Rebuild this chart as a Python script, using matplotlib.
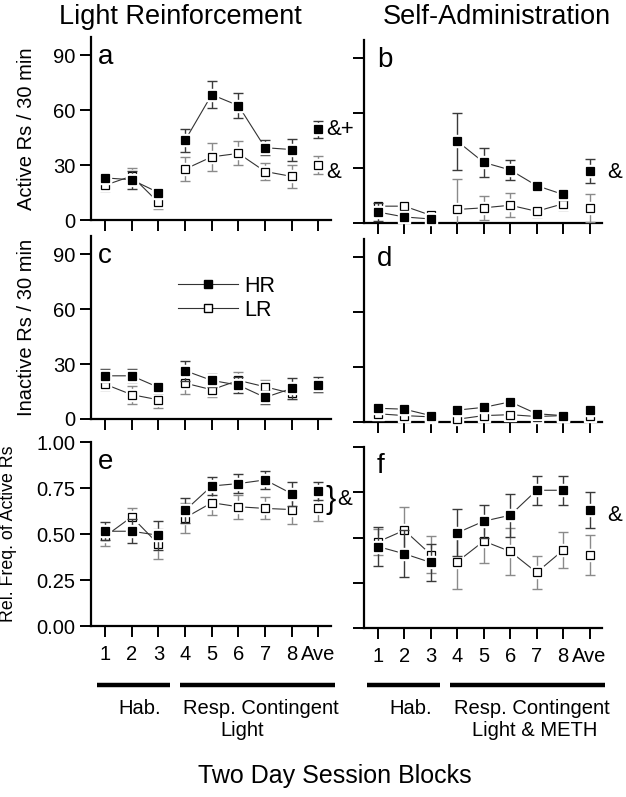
import numpy as np
import matplotlib
matplotlib.use('Agg')
import matplotlib.pyplot as plt
from matplotlib.lines import Line2D

plt.rcParams['font.family'] = ['Liberation Sans', 'DejaVu Sans']

blocks = [1, 2, 3, 4, 5, 6, 7, 8, 9]
block_labels = ['1', '2', '3', '4', '5', '6', '7', '8', 'Ave']

# a: light reinforcement, active responses
a_hr = [23, 22, 15, 43.5, 68.5, 62.5, 39.5, 38.5, 49.5]
a_hr_err = [2.5, 5, 2.7, 6.5, 7.5, 6.7, 4.2, 6, 4.8]
a_lr = [19, 24, 9.6, 27.8, 34.5, 36.4, 26.5, 23.8, 30]
a_lr_err = [3, 4.5, 3.5, 6.5, 7.7, 6.5, 4.5, 6.5, 5]

# b: self-administration, active responses
b_hr = [6, 3.3, 2.2, 44.7, 33.1, 29.0, 20.4, 15.6, 28.5]
b_hr_err = [5, 2, 1.5, 15.5, 7.7, 5.5, 2.5, 3, 6.5]
b_lr = [9.2, 9.2, 4.2, 7.4, 8.3, 9.7, 6.4, 10.5, 8.3]
b_lr_err = [3, 2.5, 1.5, 16.5, 6.6, 6.5, 3, 3.5, 7.5]

# c: light reinforcement, inactive responses
c_hr = [23.6, 23.6, 17.3, 26.4, 21.1, 18.5, 11.8, 16.7, 18.7]
c_hr_err = [3.5, 3.5, 3, 5.5, 3.5, 4.5, 3.5, 5.5, 4]
c_lr = [19, 13.3, 10.5, 19.6, 16, 21.1, 17.6, 14, 18]
c_lr_err = [3, 5, 4.5, 6, 4, 4.5, 3.5, 3, 3]

# d: self-administration, inactive responses
d_hr = [7.5, 7, 3.5, 6.5, 8, 11, 4.5, 3.5, 6.5]
d_hr_err = [1.5, 1.5, 1, 1.5, 1.5, 1.5, 1, 1, 1.5]
d_lr = [4.5, 3.5, 2.8, 1.5, 3.5, 4, 3, 3.5, 3.5]
d_lr_err = [2, 2, 1, 2, 2, 2.5, 1.5, 1.5, 2]

# e: light reinforcement, relative frequency of active responses
e_hr = [0.515, 0.515, 0.493, 0.628, 0.761, 0.774, 0.794, 0.719, 0.734]
e_hr_err = [0.05, 0.065, 0.08, 0.07, 0.05, 0.05, 0.05, 0.065, 0.05]
e_lr = [0.487, 0.593, 0.445, 0.588, 0.67, 0.648, 0.639, 0.633, 0.639]
e_lr_err = [0.05, 0.05, 0.08, 0.08, 0.065, 0.065, 0.06, 0.08, 0.07]

# f: self-administration, relative frequency of active responses
f_hr = [0.45, 0.41, 0.362, 0.526, 0.59, 0.623, 0.761, 0.761, 0.654]
f_hr_err = [0.11, 0.13, 0.1, 0.13, 0.09, 0.12, 0.08, 0.08, 0.1]
f_lr = [0.476, 0.54, 0.406, 0.366, 0.48, 0.423, 0.307, 0.43, 0.403]
f_lr_err = [0.07, 0.13, 0.1, 0.15, 0.12, 0.13, 0.09, 0.1, 0.11]

W, H = 626, 797
fig = plt.figure(figsize=(W / 100, H / 100), dpi=100)


def rect(l, t, r, b):
    return [l / W, 1 - b / H, (r - l) / W, (b - t) / H]


def draw_group(ax, x, y, err, filled, ecol):
    x = np.array(x)
    y = np.array(y)
    err = np.array(err)
    fc = 'black' if filled else 'white'
    z = 4 if filled else 3
    ax.errorbar(x, y, yerr=err, fmt='none', ecolor=ecol, elinewidth=1.0,
                capsize=3.8, capthick=1.0, zorder=z)
    for seg in (slice(0, 3), slice(3, 8)):
        ax.plot(x[seg], y[seg], '-', color='#333333', lw=0.8, zorder=z,
                clip_on=False)
    ax.plot(x, y, 's', ms=9, mfc='white', mec='white', zorder=z + 0.1,
            clip_on=False)
    ax.plot(x, y, 's', ms=6, mfc=fc, mec='black', mew=0.9, zorder=z + 0.2,
            clip_on=False)


def style(ax, ylim, yticks, ylabels, xlabels):
    ax.set_xlim(0.474, 9.47)
    ax.set_ylim(*ylim)
    ax.spines['top'].set_visible(False)
    ax.spines['right'].set_visible(False)
    ax.spines['left'].set_linewidth(1.6)
    ax.spines['bottom'].set_linewidth(1.6)
    ax.set_xticks(blocks)
    ax.set_xticklabels(block_labels if xlabels else [])
    ax.set_yticks(yticks)
    if ylabels is None:
        ax.set_yticklabels([])
    else:
        ax.set_yticklabels(ylabels)
    ax.tick_params(axis='both', direction='out', length=8, width=1.4,
                   labelsize=14.5, pad=3)
    ax.tick_params(axis='x', pad=6)


panels = [
    ('a', rect(91, 37, 331, 220), a_hr, a_hr_err, a_lr, a_lr_err, True, 'count'),
    ('b', rect(364, 40, 602, 223), b_hr, b_hr_err, b_lr, b_lr_err, False, 'count'),
    ('c', rect(91, 236, 331, 419), c_hr, c_hr_err, c_lr, c_lr_err, True, 'count'),
    ('d', rect(364, 239, 602, 422), d_hr, d_hr_err, d_lr, d_lr_err, False, 'count'),
    ('e', rect(91, 442, 331, 626), e_hr, e_hr_err, e_lr, e_lr_err, True, 'freq'),
    ('f', rect(364, 447, 602, 628), f_hr, f_hr_err, f_lr, f_lr_err, False, 'freq'),
]

axes = {}
for letter, r, hr, hre, lr, lre, left, kind in panels:
    ax = fig.add_axes(r)
    axes[letter] = ax
    if kind == 'count':
        style(ax, (0, 100), [0, 30, 60, 90],
              ['0', '30', '60', '90'] if left else None, False)
    else:
        style(ax, (0, 1.0), [0, 0.25, 0.5, 0.75, 1.0],
              ['0.00', '0.25', '0.50', '0.75', '1.00'] if left else None, True)
    draw_group(ax, blocks, lr, lre, False, '#8a8a8a')
    draw_group(ax, blocks, hr, hre, True, '#3a3a3a')
    ax.text(0.03 if left else 0.055, 0.855, letter, transform=ax.transAxes,
            fontsize=20, va='baseline', ha='left')

axes['a'].set_ylabel('Active Rs / 30 min', fontsize=14.5)
axes['a'].yaxis.set_label_coords(-0.23, 0.5)
axes['c'].set_ylabel('Inactive Rs / 30 min', fontsize=14.5)
axes['c'].yaxis.set_label_coords(-0.23, 0.5)
axes['e'].set_ylabel('Rel. Freq. of Active Rs', fontsize=12.8)
axes['e'].yaxis.set_label_coords(-0.31, 0.5)

# legend in panel c
leg_handles = [
    Line2D([], [], color='#333333', lw=0.8, marker='s', ms=6, mfc='black', mec='black'),
    Line2D([], [], color='#333333', lw=0.8, marker='s', ms=6, mfc='white', mec='black'),
]
axes['c'].legend(leg_handles, ['HR', 'LR'], loc='upper left',
                 bbox_to_anchor=(0.28, 0.89), frameon=False, fontsize=15.5,
                 handlelength=2.8, handletextpad=0.3, labelspacing=0.15)

# significance marks
ax = axes['a']
ax.text(9.28, a_hr[8], '&+', fontsize=16, va='center', ha='left', clip_on=False)
ax.text(9.28, a_lr[8] - 4, '&', fontsize=16, va='center', ha='left', clip_on=False)
ax = axes['b']
ax.text(9.65, b_hr[8] - 1, '&', fontsize=16, va='center', ha='left', clip_on=False)
ax = axes['e']
ax.text(9.25, (e_hr[8] + e_lr[8]) / 2, '}', fontsize=22, va='center', ha='left',
        clip_on=False)
ax.text(9.72, (e_hr[8] + e_lr[8]) / 2, '&', fontsize=16, va='center', ha='left',
        clip_on=False)
ax = axes['f']
ax.text(9.65, f_hr[8] - 0.03, '&', fontsize=16, va='center', ha='left', clip_on=False)

# column titles
fig.text(180 / W, 1 - 17 / H, 'Light Reinforcement', fontsize=19.5,
         ha='center', va='center')
fig.text(497 / W, 1 - 17 / H, 'Self-Administration', fontsize=19.5,
         ha='center', va='center')

# phase bars and labels
bar_y = 1 - 685 / H
for x0, x1 in [(97, 170), (180, 335), (367, 440), (450, 605)]:
    fig.add_artist(Line2D([x0 / W, x1 / W], [bar_y, bar_y], color='black',
                          lw=3.2, solid_capstyle='butt'))

phase_text = [
    (140, 708, 'Hab.'), (261, 708, 'Resp. Contingent'), (242, 731, 'Light'),
    (411, 708, 'Hab.'), (532, 708, 'Resp. Contingent'), (535, 731, 'Light & METH'),
]
for x, y, s in phase_text:
    fig.text(x / W, 1 - y / H, s, fontsize=14.5, ha='center', va='center')

fig.text(335 / W, 1 - 776 / H, 'Two Day Session Blocks', fontsize=18,
         ha='center', va='center')

fig.savefig('out.png', dpi=100)
